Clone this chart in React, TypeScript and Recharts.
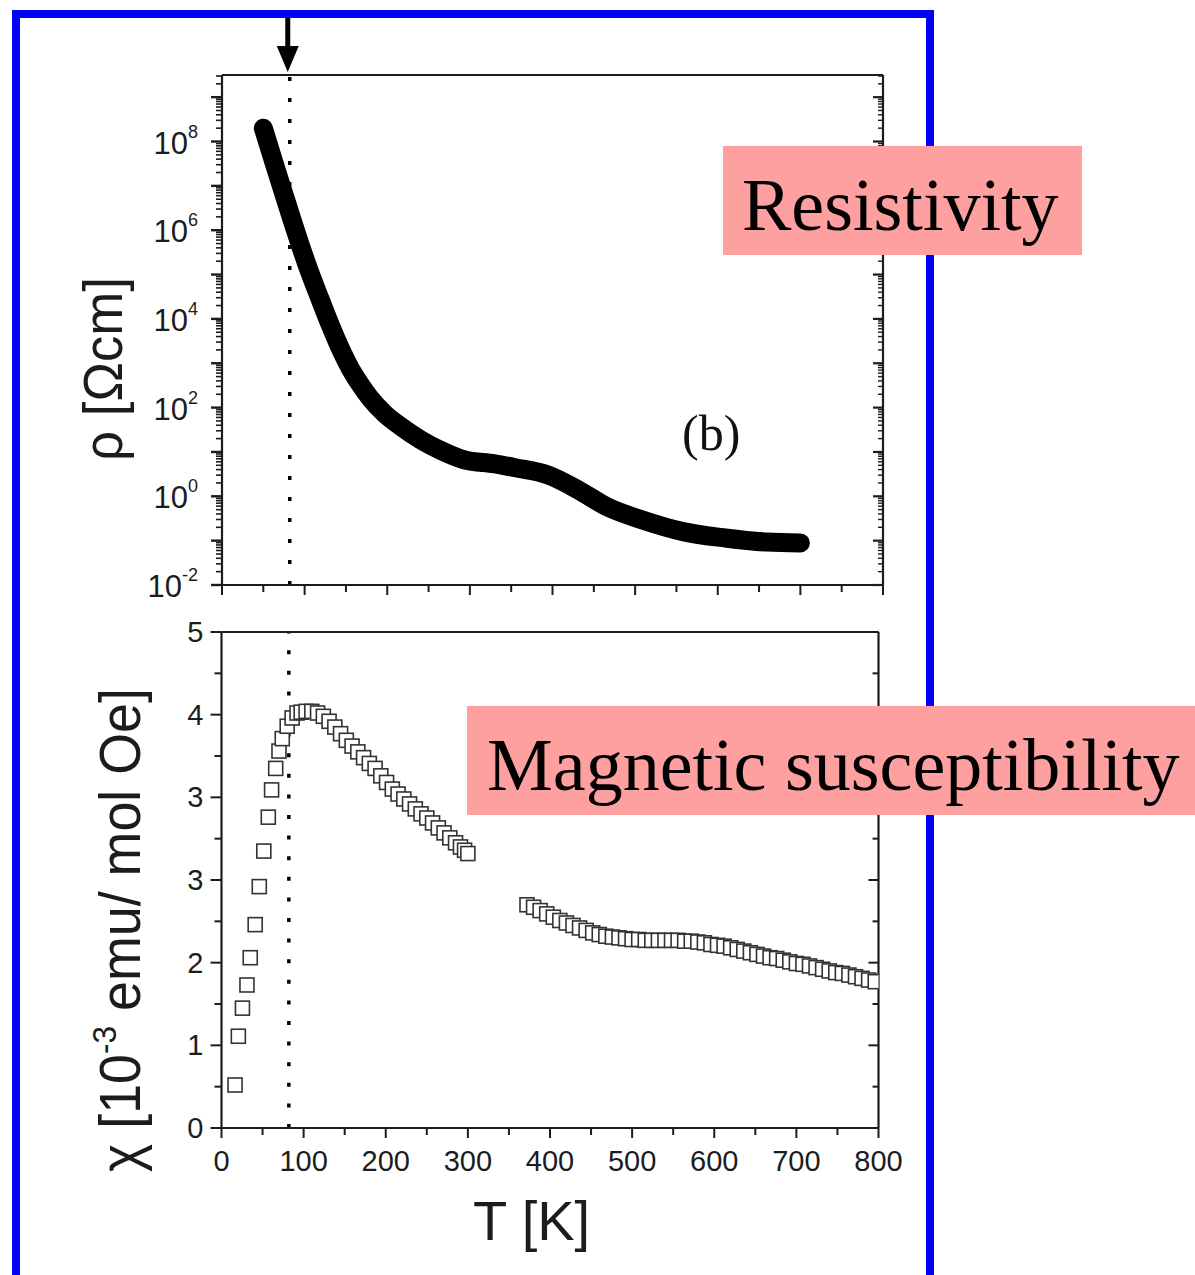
import React from 'react';
import { ComposedChart, Line, Scatter, XAxis, YAxis, ReferenceLine, Label } from 'recharts';

// ---------- data ----------
// Resistivity (top panel), T in K, rho in Ohm cm
const resT = [50, 65, 82, 94, 106, 119, 131, 143, 155, 167, 179, 197, 215, 240, 264, 294, 330, 355, 395, 431, 466, 507, 558, 609, 660, 700];
const resRho = [2.0e8, 2.5e7, 2.5e6, 5.1e5, 1.15e5, 2.7e4, 7.3e3, 2.2e3, 780, 340, 165, 72, 39, 19, 11, 6.6, 5.4, 4.4, 3.0, 1.4, 0.58, 0.30, 0.16, 0.115, 0.093, 0.089];

// Susceptibility (bottom panel), low-temperature run (axis units)
const chiLowT = [16.5, 20.5, 25.5, 31, 35, 41, 46, 51.5, 57, 61, 66, 70, 74, 80, 86, 92, 97, 103, 110, 117, 124, 131, 138, 145, 152, 159, 166, 173, 180, 187, 194, 201, 208, 215, 222, 229, 236, 243, 250, 257, 264, 271, 278, 285, 291, 296, 300];
const chiLowV = [0.52, 1.11, 1.45, 1.73, 2.06, 2.46, 2.92, 3.35, 3.76, 4.09, 4.35, 4.56, 4.71, 4.86, 4.96, 5.02, 5.03, 5.04, 5.04, 5.02, 4.98, 4.92, 4.85, 4.77, 4.69, 4.62, 4.55, 4.48, 4.41, 4.35, 4.26, 4.18, 4.10, 4.04, 3.98, 3.92, 3.86, 3.80, 3.75, 3.69, 3.63, 3.57, 3.51, 3.45, 3.40, 3.36, 3.32];

// Susceptibility, high-temperature run
const chiHighT = [372, 380, 388, 396, 404, 412, 420, 428, 436, 444, 452, 460, 468, 476, 484, 492, 500, 508, 516, 524, 532, 540, 548, 556, 564, 572, 580, 588, 596, 604, 612, 620, 628, 636, 644, 652, 660, 668, 676, 684, 692, 700, 708, 716, 724, 732, 740, 748, 756, 764, 772, 780, 788, 796];
const chiHighV = [2.70, 2.67, 2.63, 2.59, 2.55, 2.51, 2.48, 2.45, 2.42, 2.39, 2.36, 2.34, 2.32, 2.31, 2.30, 2.29, 2.28, 2.28, 2.27, 2.27, 2.27, 2.27, 2.27, 2.27, 2.26, 2.26, 2.25, 2.24, 2.22, 2.21, 2.20, 2.18, 2.16, 2.14, 2.12, 2.10, 2.08, 2.06, 2.05, 2.03, 2.01, 1.99, 1.98, 1.96, 1.94, 1.92, 1.90, 1.88, 1.87, 1.85, 1.83, 1.81, 1.79, 1.77];

// Axis ticks and labels
const xTicks = [0, 50, 100, 150, 200, 250, 300, 350, 400, 450, 500, 550, 600, 650, 700, 750, 800];
const xLabelled = [0, 100, 200, 300, 400, 500, 600, 700, 800];
const logDecades = [-2, -1, 0, 1, 2, 3, 4, 5, 6, 7, 8, 9];
const logMultipliers = [1, 2, 3, 4, 5, 6, 7, 8, 9];
const logLabelledDecades = [-2, 0, 2, 4, 6, 8];
const chiTicks = [0, 0.5, 1, 1.5, 2, 2.5, 3, 3.5, 4, 4.5, 5, 5.5, 6];
const chiTickLabels = ['0', '1', '2', '3', '3', '4', '5'];
const T_MARK = 82;
const RHO_DOMAIN = [0.01, 3.16e9];

const logTicks: number[] = [];
logDecades.forEach((d) => logMultipliers.forEach((m) => {
  const v = m * Math.pow(10, d);
  if (v >= RHO_DOMAIN[0] && v <= RHO_DOMAIN[1]) logTicks.push(Number(v.toPrecision(3)));
}));

// ---------- styling ----------
const INK = '#1c1c1c';
const SANS = '"Liberation Sans", Arial, Helvetica, sans-serif';
const SERIF = '"Liberation Serif", "Times New Roman", Times, serif';
const PINK = '#FFA0A0';
const BLUE = '#0000FF';

const isDecade = (v: number) => {
  const e = Math.log10(v);
  return Math.abs(e - Math.round(e)) < 1e-6;
};

const xTickBottom = (showLabel: boolean) => (p: any) => {
  const { x, y, payload } = p;
  const v = payload.value;
  const major = v % 100 === 0;
  return (
    <g>
      <line x1={x} x2={x} y1={y} y2={y + (major ? 10 : 7)} stroke={INK} strokeWidth={2} />
      {showLabel && xLabelled.includes(v) && (
        <text x={x} y={y + 43} textAnchor="middle" fontSize={29} fontFamily={SANS} fill={INK}>{v}</text>
      )}
    </g>
  );
};

const xTickTop = (p: any) => {
  const { x, y, payload } = p;
  const major = payload.value % 100 === 0;
  return <line x1={x} x2={x} y1={y} y2={y + (major ? 9 : 6)} stroke={INK} strokeWidth={2} />;
};

const logTickLeft = (p: any) => {
  const { x, y, payload } = p;
  const v = payload.value;
  const dec = isDecade(v);
  const r = Math.round(Math.log10(v));
  return (
    <g>
      <line x1={x - (dec ? 11 : 6)} x2={x} y1={y} y2={y} stroke={INK} strokeWidth={dec ? 2.4 : 1.6} />
      {dec && logLabelledDecades.includes(r) && (
        <text x={x - 24} y={y + 12} textAnchor="end" fontSize={31} fontFamily={SANS} fill={INK}>
          10<tspan dy={-16} fontSize={18}>{r}</tspan>
        </text>
      )}
    </g>
  );
};

const logTickRight = (p: any) => {
  const { x, y, payload } = p;
  const dec = isDecade(payload.value);
  return <line x1={x - (dec ? 10 : 5)} x2={x} y1={y} y2={y} stroke={INK} strokeWidth={dec ? 2.2 : 1.4} />;
};

const chiTickLeft = (p: any) => {
  const { x, y, payload } = p;
  const v = payload.value;
  const major = Number.isInteger(v);
  return (
    <g>
      <line x1={x - (major ? 11 : 7)} x2={x} y1={y} y2={y} stroke={INK} strokeWidth={2} />
      {major && (
        <text x={x - 18} y={y + 10} textAnchor="end" fontSize={29} fontFamily={SANS} fill={INK}>{chiTickLabels[v]}</text>
      )}
    </g>
  );
};

const chiTickRight = (p: any) => {
  const { x, y, payload } = p;
  const major = Number.isInteger(payload.value);
  return <line x1={x - (major ? 10 : 6)} x2={x} y1={y} y2={y} stroke={INK} strokeWidth={2} />;
};

const Square = (p: any) => {
  const { cx, cy } = p;
  if (cx == null || cy == null) return null;
  return <rect x={cx - 7} y={cy - 7} width={14} height={14} fill="#fff" stroke="#333" strokeWidth={1.6} />;
};

const ArrowLabel = (p: any) => {
  const vb = p.viewBox || {};
  const x = (vb.x ?? 0) - 2;
  return (
    <g>
      <line x1={x} x2={x} y1={18} y2={50} stroke="#000" strokeWidth={5} />
      <polygon points={`${x - 11},46 ${x + 11},46 ${x},72`} fill="#000" />
    </g>
  );
};

const RhoTitle = (p: any) => {
  const vb = p.viewBox || { x: 0, y: 0, width: 0, height: 0 };
  const cx = vb.x + 122;
  const cy = vb.y + vb.height / 2 + 39;
  return (
    <text x={cx} y={cy} transform={`rotate(-90, ${cx}, ${cy})`} textAnchor="middle" fontSize={56}
      fontFamily={SANS} fill={INK} textLength={184} lengthAdjust="spacingAndGlyphs">ρ [Ωcm]</text>
  );
};

const ChiTitle = (p: any) => {
  const vb = p.viewBox || { x: 0, y: 0, width: 0, height: 0 };
  const cx = vb.x + 140;
  const cy = vb.y + vb.height / 2 + 50;
  return (
    <text x={cx} y={cy} transform={`rotate(-90, ${cx}, ${cy})`} textAnchor="middle" fontSize={58}
      fontFamily={SANS} fill={INK} textLength={484} lengthAdjust="spacingAndGlyphs">
      χ [10<tspan dy={-24} fontSize={34}>-3</tspan><tspan dy={24}> emu/ mol Oe]</tspan>
    </text>
  );
};

const TTitle = (p: any) => {
  const vb = p.viewBox || { x: 0, y: 0, width: 0, height: 0 };
  return (
    <text x={vb.x + 310} y={vb.y + 112} textAnchor="middle" fontSize={56} fontFamily={SANS} fill={INK}>T [K]</text>
  );
};

const axisLine = { stroke: INK, strokeWidth: 2.2 };

export default function App() {
  const resData = resT.map((t, i) => ({ T: t, rho: resRho[i] }));
  const chiLow = chiLowT.map((t, i) => ({ T: t, chi: chiLowV[i] }));
  const chiHigh = chiHighT.map((t, i) => ({ T: t, chi: chiHighV[i] }));

  return (
    <div style={{ position: 'absolute', left: 0, top: 0, width: 1195, height: 1275, background: '#fff', overflow: 'hidden' }}>
      {/* Top panel: resistivity */}
      <div style={{ position: 'absolute', left: 0, top: 0 }}>
        <ComposedChart width={1195} height={640} data={resData} margin={{ top: 55, right: 292, bottom: 15, left: 0 }}>
          <XAxis xAxisId="b" dataKey="T" type="number" domain={[0, 800]} ticks={xTicks} interval={0}
            allowDataOverflow tickSize={0} tickMargin={0} height={40} axisLine={axisLine} tickLine={false}
            tick={xTickBottom(false)} />
          <XAxis xAxisId="t" orientation="top" type="number" domain={[0, 800]} ticks={xTicks} interval={0}
            allowDataOverflow tickSize={0} tickMargin={0} height={20} axisLine={axisLine} tickLine={false}
            tick={xTickTop} />
          <YAxis yAxisId="l" type="number" scale="log" domain={RHO_DOMAIN} ticks={logTicks} interval={0}
            allowDataOverflow tickSize={0} tickMargin={0} width={222} axisLine={axisLine} tickLine={false}
            tick={logTickLeft}>
            <Label content={RhoTitle} />
          </YAxis>
          <YAxis yAxisId="r" orientation="right" type="number" scale="log" domain={RHO_DOMAIN} ticks={logTicks}
            interval={0} allowDataOverflow tickSize={0} tickMargin={0} width={20} axisLine={axisLine}
            tickLine={false} tick={logTickRight} />
          <ReferenceLine xAxisId="b" yAxisId="l" x={T_MARK} stroke="#000" strokeWidth={3.5}
            strokeDasharray="4 17" label={<ArrowLabel />} />
          <Line xAxisId="b" yAxisId="l" dataKey="rho" type="monotone" stroke="#000" strokeWidth={19}
            strokeLinecap="round" strokeLinejoin="round" dot={false} activeDot={false} isAnimationActive={false} />
        </ComposedChart>
      </div>

      {/* Bottom panel: magnetic susceptibility */}
      <div style={{ position: 'absolute', left: 0, top: 600 }}>
        <ComposedChart width={1195} height={675} margin={{ top: 12, right: 296.5, bottom: 0, left: 0 }}>
          <XAxis xAxisId="b" dataKey="T" type="number" domain={[0, 800]} ticks={xTicks} interval={0}
            allowDataOverflow tickSize={0} tickMargin={0} height={147} axisLine={axisLine} tickLine={false}
            tick={xTickBottom(true)}>
            <Label content={TTitle} />
          </XAxis>
          <XAxis xAxisId="t" orientation="top" type="number" domain={[0, 800]} ticks={xTicks} interval={0}
            allowDataOverflow tickSize={0} tickMargin={0} height={20} axisLine={axisLine} tickLine={false}
            tick={xTickTop} />
          <YAxis yAxisId="l" dataKey="chi" type="number" domain={[0, 6]} ticks={chiTicks} interval={0}
            allowDataOverflow tickSize={0} tickMargin={0} width={221.5} axisLine={axisLine} tickLine={false}
            tick={chiTickLeft}>
            <Label content={ChiTitle} />
          </YAxis>
          <YAxis yAxisId="r" orientation="right" type="number" domain={[0, 6]} ticks={chiTicks} interval={0}
            allowDataOverflow tickSize={0} tickMargin={0} width={20} axisLine={axisLine} tickLine={false}
            tick={chiTickRight} />
          <ReferenceLine xAxisId="b" yAxisId="l" x={T_MARK} stroke="#000" strokeWidth={3.5} strokeDasharray="4 16.6" />
          <Scatter xAxisId="b" yAxisId="l" data={chiLow} dataKey="chi" shape={Square} isAnimationActive={false} />
          <Scatter xAxisId="b" yAxisId="l" data={chiHigh} dataKey="chi" shape={Square} isAnimationActive={false} />
        </ComposedChart>
      </div>

      {/* Annotations: frame, highlighted captions, panel letter */}
      <svg width={1195} height={1275} style={{ position: 'absolute', left: 0, top: 0, pointerEvents: 'none' }}>
        <rect x={16} y={14} width={914} height={1400} fill="none" stroke={BLUE} strokeWidth={8} />
        <text x={682} y={450} fontSize={50} fontFamily={SERIF} fill="#111">(b)</text>
        <rect x={723} y={146} width={359} height={109} fill={PINK} />
        <text x={742} y={230} fontSize={74} fontFamily={SERIF} fill="#000">Resistivity</text>
        <rect x={467} y={706} width={728} height={109} fill={PINK} />
        <text x={487} y={790} fontSize={74} fontFamily={SERIF} fill="#000">Magnetic susceptibility</text>
      </svg>
    </div>
  );
}
